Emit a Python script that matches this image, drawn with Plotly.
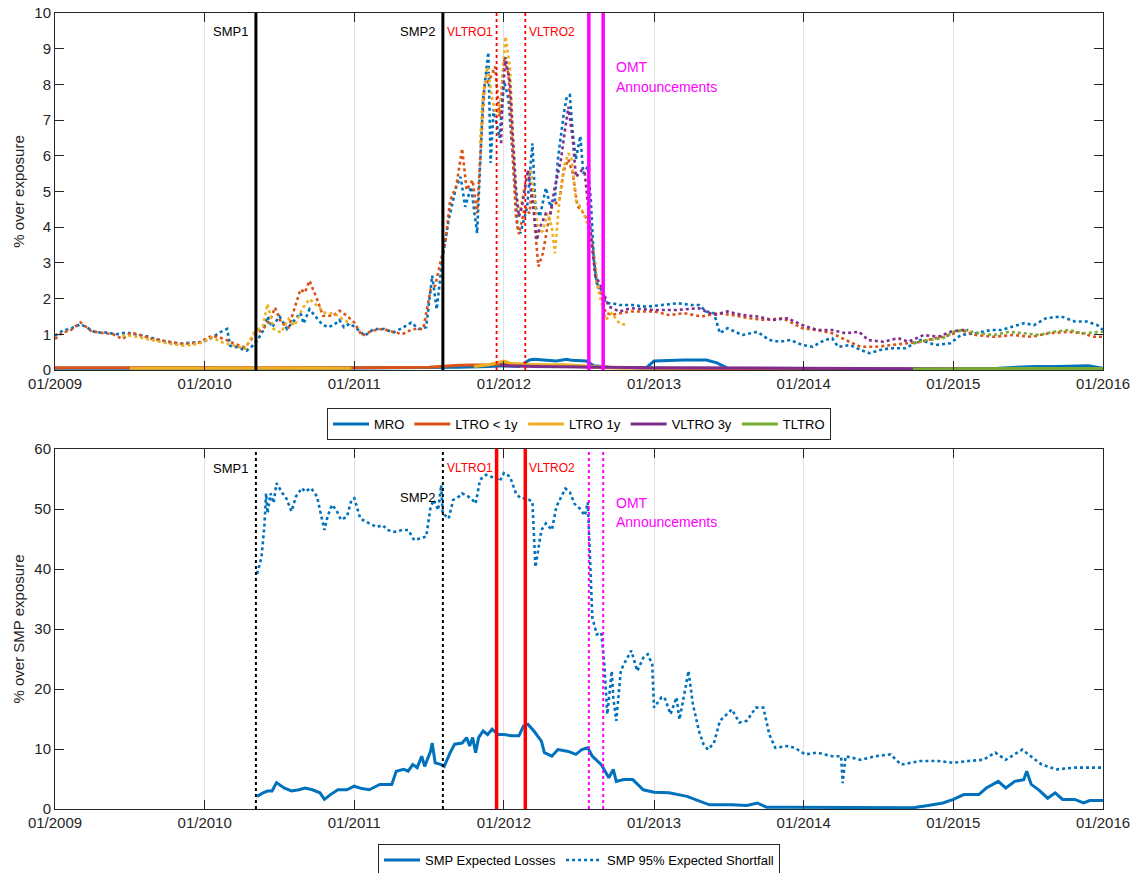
import pandas as pd
import plotly.graph_objects as go

# ---------------- data (decimal-year time stamps, values in %) ----------------
# Top panel: expected shortfall (dotted) per facility, % over exposure
t_mro_es = [2009.00, 2009.05, 2009.10, 2009.17, 2009.21, 2009.27, 2009.34, 2009.41, 2009.48, 2009.53,
            2009.60, 2009.67, 2009.77, 2009.84, 2009.91, 2009.98, 2010.05, 2010.10, 2010.15, 2010.17,
            2010.22, 2010.28, 2010.32, 2010.35, 2010.39, 2010.42, 2010.45, 2010.50, 2010.55, 2010.60,
            2010.64, 2010.66, 2010.70, 2010.74, 2010.78, 2010.82, 2010.86, 2010.90, 2010.93, 2010.97,
            2011.02, 2011.07, 2011.13, 2011.20, 2011.26, 2011.33, 2011.38, 2011.43, 2011.48, 2011.52,
            2011.55, 2011.59, 2011.63, 2011.68, 2011.71, 2011.74, 2011.78, 2011.82, 2011.84, 2011.86,
            2011.895, 2011.91, 2011.93, 2011.97, 2012.00, 2012.03, 2012.06, 2012.09, 2012.11, 2012.155,
            2012.19, 2012.21, 2012.24, 2012.28, 2012.31, 2012.34, 2012.36, 2012.40, 2012.42, 2012.44,
            2012.46, 2012.48, 2012.51, 2012.53, 2012.56, 2012.58, 2012.60, 2012.62, 2012.65, 2012.68,
            2012.72, 2012.77, 2012.86, 2012.95, 2013.05, 2013.16, 2013.25, 2013.30, 2013.35, 2013.40,
            2013.44, 2013.49, 2013.59, 2013.69, 2013.77, 2013.84, 2013.91, 2013.99, 2014.06, 2014.14,
            2014.19, 2014.23, 2014.31, 2014.38, 2014.44, 2014.51, 2014.58, 2014.68, 2014.78, 2014.88,
            2014.98, 2015.05, 2015.15, 2015.25, 2015.32, 2015.40, 2015.47, 2015.54, 2015.62, 2015.72,
            2015.81, 2015.89, 2015.96, 2016.00]
v_mro_es = [0.96, 1.10, 1.15, 1.28, 1.20, 1.05, 1.05, 1.00, 1.05, 1.00,
            0.96, 0.87, 0.77, 0.73, 0.77, 0.77, 0.91, 1.05, 1.15, 0.68,
            0.63, 0.54, 0.68, 0.82, 1.10, 1.50, 1.20, 1.50, 1.15, 1.40,
            1.60, 1.30, 1.70, 1.50, 1.30, 1.20, 1.25, 1.40, 1.20, 1.30,
            1.15, 0.96, 1.15, 1.15, 1.05, 1.20, 1.33, 1.15, 1.20, 2.64,
            1.70, 3.17, 4.20, 5.13, 5.41, 4.57, 5.13, 3.83, 5.90, 7.60,
            8.90, 5.80, 7.30, 6.50, 8.10, 7.60, 5.90, 4.00, 3.83, 4.57,
            6.35, 4.57, 4.30, 5.10, 4.57, 4.76, 5.90, 7.20, 7.66, 7.70,
            6.60, 5.90, 6.55, 5.50, 5.70, 4.76, 3.10, 2.43, 2.24, 1.87,
            1.87, 1.82, 1.82, 1.77, 1.82, 1.87, 1.82, 1.82, 1.64, 1.59,
            1.03, 1.17, 0.98, 1.07, 0.84, 0.79, 0.84, 0.70, 0.65, 0.84,
            0.89, 0.65, 0.70, 0.56, 0.47, 0.56, 0.61, 0.61, 0.84, 0.70,
            0.75, 0.98, 1.03, 1.12, 1.12, 1.21, 1.31, 1.26, 1.45, 1.50,
            1.36, 1.36, 1.26, 1.12]

t_ltro_es = [2009.00, 2009.05, 2009.10, 2009.17, 2009.24, 2009.29, 2009.39, 2009.45, 2009.51, 2009.58,
             2009.65, 2009.72, 2009.79, 2009.86, 2009.96, 2010.05, 2010.13, 2010.20, 2010.27, 2010.33,
             2010.39, 2010.44, 2010.47, 2010.51, 2010.56, 2010.60, 2010.64, 2010.67, 2010.70, 2010.75,
             2010.79, 2010.86, 2010.90, 2010.95, 2011.00, 2011.05, 2011.12, 2011.19, 2011.27, 2011.32,
             2011.39, 2011.46, 2011.51, 2011.54, 2011.59, 2011.61, 2011.64, 2011.68, 2011.72, 2011.75,
             2011.79, 2011.82, 2011.85, 2011.87, 2011.91, 2011.94, 2011.97, 2012.00, 2012.03, 2012.06,
             2012.08, 2012.10, 2012.14, 2012.17, 2012.19, 2012.21, 2012.23, 2012.26, 2012.29, 2012.32,
             2012.37, 2012.40, 2012.43, 2012.46, 2012.49, 2012.53, 2012.57, 2012.60, 2012.62, 2012.65,
             2012.68, 2012.72, 2012.85, 2013.00, 2013.10, 2013.20, 2013.32, 2013.42, 2013.52, 2013.64,
             2013.74, 2013.86, 2013.99, 2014.09, 2014.19, 2014.28, 2014.38, 2014.48, 2014.58, 2014.68,
             2014.78, 2014.88, 2014.98, 2015.05, 2015.15, 2015.27, 2015.40, 2015.52, 2015.64, 2015.77,
             2015.86, 2015.94, 2016.00]
v_ltro_es = [0.87, 1.05, 1.10, 1.33, 1.10, 1.05, 1.00, 0.87, 1.05, 0.96,
             0.87, 0.82, 0.77, 0.73, 0.77, 0.96, 0.87, 0.73, 0.63, 0.96,
             1.15, 1.43, 1.75, 1.33, 1.19, 1.70, 2.26, 2.17, 2.50, 1.99,
             1.52, 1.52, 1.66, 1.52, 1.33, 0.96, 1.10, 1.15, 1.05, 1.00,
             1.15, 1.15, 2.26, 2.36, 3.29, 3.64, 4.76, 5.13, 6.20, 5.04,
             5.32, 4.39, 6.63, 7.94, 8.20, 8.50, 7.10, 8.70, 8.30, 5.90,
             4.30, 3.80, 4.57, 4.39, 5.13, 3.83, 2.90, 3.27, 4.00, 4.57,
             4.76, 5.60, 5.90, 5.50, 4.60, 4.40, 4.10, 3.10, 2.40, 2.10,
             1.59, 1.55, 1.64, 1.64, 1.54, 1.59, 1.50, 1.59, 1.54, 1.45,
             1.40, 1.45, 1.17, 1.12, 1.03, 0.84, 0.65, 0.65, 0.70, 0.75,
             0.79, 0.89, 0.98, 1.12, 0.98, 0.93, 0.98, 0.93, 1.03, 1.07,
             1.03, 0.93, 0.93]

t_ltro1y_es = [2009.45, 2009.50, 2009.57, 2009.67, 2009.77, 2009.86, 2009.96, 2010.05, 2010.12, 2010.20,
               2010.27, 2010.33, 2010.39, 2010.42, 2010.46, 2010.51, 2010.56, 2010.60, 2010.65, 2010.70,
               2010.75, 2010.80, 2010.87, 2010.92, 2010.98, None,
               2011.84, 2011.86, 2011.89, 2011.92, 2011.95, 2011.98, 2012.01, 2012.04, 2012.06, 2012.08,
               2012.10, 2012.12, 2012.15, 2012.18, 2012.20, 2012.23, 2012.26, 2012.29, 2012.32, 2012.34,
               2012.37, 2012.40, 2012.43, 2012.45, 2012.48, 2012.51, 2012.54, 2012.58, 2012.61, 2012.63,
               2012.68, 2012.72, 2012.77, 2012.82]
v_ltro1y_es = [0.96, 0.96, 0.91, 0.82, 0.73, 0.68, 0.73, 0.91, 0.77, 0.68,
               0.59, 1.05, 1.24, 1.85, 1.15, 1.05, 1.43, 1.24, 1.70, 1.99,
               1.80, 1.61, 1.57, 1.43, 1.29, None,
               6.35, 7.75, 8.50, 7.60, 7.10, 7.60, 9.34, 8.50, 6.63, 5.13,
               4.30, 4.76, 5.41, 5.60, 4.94, 3.83, 3.90, 4.39, 4.00, 3.27,
               4.76, 5.70, 6.07, 5.97, 4.76, 4.57, 4.30, 3.83, 3.00, 2.24,
               1.40, 1.59, 1.31, 1.26]

t_vltro_es = [2011.98, 2011.99, 2012.01, 2012.04, 2012.06, 2012.08, 2012.10, 2012.12, 2012.16, 2012.19,
              2012.22, 2012.24, 2012.28, 2012.31, 2012.34, 2012.38, 2012.41, 2012.43, 2012.46, 2012.48,
              2012.52, 2012.54, 2012.58, 2012.61, 2012.64, 2012.70, 2012.77, 2012.85, 2013.00, 2013.15,
              2013.30, 2013.40, 2013.49, 2013.59, 2013.69, 2013.79, 2013.89, 2013.99, 2014.09, 2014.19,
              2014.28, 2014.37, 2014.43, 2014.53, 2014.63, 2014.70, 2014.80, 2014.90, 2014.98, 2015.05,
              2015.10]
v_vltro_es = [6.35, 7.60, 8.76, 8.05, 6.45, 5.04, 4.30, 4.57, 5.60, 4.76,
              3.64, 4.00, 4.39, 4.39, 5.13, 5.88, 6.80, 7.37, 6.45, 5.41,
              5.60, 5.50, 3.83, 2.61, 2.43, 1.78, 1.64, 1.73, 1.68, 1.68,
              1.73, 1.54, 1.64, 1.54, 1.50, 1.40, 1.45, 1.26, 1.12, 1.12,
              1.03, 1.07, 0.84, 0.79, 0.89, 0.79, 0.98, 0.93, 1.07, 1.12,
              1.12]

t_tltro_es = [2014.73, 2014.83, 2014.93, 2015.00, 2015.07, 2015.17, 2015.27, 2015.37, 2015.47, 2015.57,
              2015.67, 2015.77, 2015.86, 2015.96, 2016.00]
v_tltro_es = [0.75, 0.84, 0.89, 1.07, 1.12, 1.03, 0.98, 1.07, 1.03, 0.98,
              1.07, 1.12, 1.03, 1.07, 1.07]

# Top panel: expected losses (solid) per facility
t_mro_el = [2009.00, 2009.50, 2010.00, 2010.50, 2011.00, 2011.50, 2011.70, 2011.90, 2012.00, 2012.10,
            2012.17, 2012.20, 2012.30, 2012.35, 2012.42, 2012.45, 2012.55, 2012.60, 2012.70, 2012.95,
            2013.00, 2013.20, 2013.35, 2013.42, 2013.50, 2014.00, 2014.50, 2015.00, 2015.30, 2015.55,
            2015.70, 2015.90, 2016.00]
v_mro_el = [0.05, 0.06, 0.05, 0.04, 0.05, 0.06, 0.08, 0.10, 0.12, 0.10,
            0.28, 0.30, 0.26, 0.25, 0.30, 0.27, 0.25, 0.12, 0.08, 0.06,
            0.25, 0.28, 0.28, 0.20, 0.03, 0.03, 0.02, 0.03, 0.05, 0.10,
            0.10, 0.12, 0.05]

t_ltro_el = [2009.00, 2010.00, 2011.00, 2011.50, 2011.70, 2011.90, 2012.00, 2012.20, 2012.50, 2012.70,
             2013.00, 2014.00, 2015.00, 2016.00]
v_ltro_el = [0.06, 0.05, 0.06, 0.08, 0.13, 0.15, 0.18, 0.14, 0.10, 0.06,
             0.05, 0.03, 0.02, 0.02]

t_ltro1y_el = [2009.50, 2010.00, 2010.50, 2010.98, None,
               2011.80, 2011.90, 2012.00, 2012.05, 2012.20, 2012.40, 2012.60, 2012.82]
v_ltro1y_el = [0.05, 0.05, 0.05, 0.05, None,
               0.10, 0.15, 0.25, 0.18, 0.15, 0.15, 0.10, 0.05]

t_vltro_el = [2011.97, 2012.00, 2012.20, 2012.50, 2013.00, 2014.00, 2014.70, 2015.10]
v_vltro_el = [0.15, 0.12, 0.10, 0.08, 0.06, 0.05, 0.04, 0.03]

t_tltro_el = [2014.73, 2015.00, 2015.50, 2016.00]
v_tltro_el = [0.03, 0.04, 0.04, 0.04]

# Bottom panel: SMP portfolio, % over SMP exposure
t_smp_es = [2010.35, 2010.38, 2010.40, 2010.41, 2010.42, 2010.44, 2010.46, 2010.48, 2010.52, 2010.54,
            2010.58, 2010.61, 2010.65, 2010.67, 2010.71, 2010.75, 2010.77, 2010.80, 2010.82, 2010.85,
            2010.88, 2010.91, 2010.95, 2010.98, 2011.00, 2011.04, 2011.10, 2011.15, 2011.19, 2011.22,
            2011.27, 2011.32, 2011.36, 2011.40, 2011.44, 2011.48, 2011.51, 2011.53, 2011.56, 2011.58,
            2011.59, 2011.63, 2011.66, 2011.70, 2011.72, 2011.76, 2011.79, 2011.81, 2011.84, 2011.88,
            2011.91, 2011.95, 2011.97, 2012.00, 2012.04, 2012.08, 2012.11, 2012.15, 2012.19, 2012.21,
            2012.25, 2012.28, 2012.32, 2012.35, 2012.41, 2012.44, 2012.47, 2012.51, 2012.54, 2012.56,
            2012.57, 2012.58, 2012.59, 2012.62, 2012.65, 2012.67, 2012.69, 2012.72, 2012.73, 2012.75,
            2012.78, 2012.80, 2012.85, 2012.89, 2012.93, 2012.96, 2012.99, 2013.00, 2013.05, 2013.07,
            2013.11, 2013.15, 2013.17, 2013.21, 2013.23, 2013.26, 2013.30, 2013.33, 2013.36, 2013.40,
            2013.44, 2013.52, 2013.57, 2013.62, 2013.68, 2013.73, 2013.77, 2013.81, 2013.89, 2013.94,
            2014.01, 2014.09, 2014.19, 2014.25, 2014.26, 2014.28, 2014.38, 2014.48, 2014.58, 2014.65,
            2014.78, 2014.90, 2015.00, 2015.10, 2015.20, 2015.28, 2015.35, 2015.46, 2015.52, 2015.59,
            2015.69, 2015.81, 2016.00]
v_smp_es = [39.2, 42.0, 47.6, 52.6, 49.3, 52.6, 51.0, 54.3, 52.6, 52.1,
            49.6, 52.1, 53.5, 52.9, 53.5, 52.1, 49.8, 46.5, 48.7, 50.7,
            49.8, 48.2, 48.7, 51.5, 51.8, 48.4, 47.6, 47.0, 47.3, 46.5,
            46.2, 46.5, 46.5, 44.8, 45.1, 45.4, 50.4, 51.5, 49.8, 54.0,
            49.3, 48.4, 51.5, 52.1, 52.6, 52.1, 51.5, 50.9, 54.9, 55.7,
            55.4, 55.1, 54.6, 56.0, 55.4, 52.6, 51.8, 51.8, 51.2, 40.3,
            46.5, 47.6, 46.5, 50.4, 53.4, 52.8, 50.9, 50.0, 48.9, 51.1,
            44.7, 37.5, 31.9, 29.1, 29.4, 24.1, 15.8, 23.0, 18.6, 14.7,
            23.0, 24.1, 26.4, 23.0, 25.2, 25.8, 24.1, 16.9, 18.6, 18.6,
            15.8, 18.6, 14.9, 20.2, 23.0, 17.4, 13.0, 10.8, 9.9, 11.0,
            14.7, 16.6, 14.4, 14.7, 16.9, 16.9, 12.4, 10.2, 10.5, 10.2,
            9.1, 9.4, 8.8, 8.8, 4.3, 8.8, 8.2, 8.8, 9.1, 7.4,
            8.0, 8.0, 7.7, 8.0, 8.2, 9.4, 8.2, 9.9, 8.8, 7.4,
            6.6, 6.9, 6.9]

t_smp_el = [2010.35, 2010.39, 2010.42, 2010.45, 2010.48, 2010.53, 2010.58, 2010.63, 2010.67, 2010.72,
            2010.77, 2010.80, 2010.84, 2010.89, 2010.95, 2011.00, 2011.05, 2011.10, 2011.17, 2011.25,
            2011.28, 2011.33, 2011.36, 2011.39, 2011.42, 2011.45, 2011.47, 2011.51, 2011.52, 2011.54,
            2011.58, 2011.60, 2011.64, 2011.67, 2011.72, 2011.75, 2011.77, 2011.79, 2011.81, 2011.83,
            2011.86, 2011.89, 2011.92, 2011.96, 2012.00, 2012.05, 2012.10, 2012.13, 2012.16, 2012.20,
            2012.25, 2012.27, 2012.32, 2012.36, 2012.43, 2012.48, 2012.52, 2012.56, 2012.59, 2012.65,
            2012.70, 2012.73, 2012.75, 2012.80, 2012.86, 2012.93, 2013.00, 2013.10, 2013.22, 2013.37,
            2013.52, 2013.62, 2013.69, 2013.75, 2013.89, 2014.04, 2014.28, 2014.58, 2014.73, 2014.83,
            2014.93, 2015.00, 2015.07, 2015.17, 2015.22, 2015.30, 2015.35, 2015.41, 2015.47, 2015.49,
            2015.52, 2015.57, 2015.63, 2015.68, 2015.73, 2015.81, 2015.87, 2015.91, 2016.00]
v_smp_el = [2.1, 2.7, 3.0, 3.0, 4.4, 3.5, 3.0, 3.2, 3.5, 3.2,
            2.7, 1.6, 2.4, 3.2, 3.2, 3.8, 3.4, 3.2, 4.1, 4.1,
            6.3, 6.6, 6.3, 7.4, 6.9, 8.8, 7.1, 9.7, 11.0, 7.7,
            7.4, 7.1, 9.4, 10.8, 11.0, 11.9, 10.5, 11.9, 9.4, 11.9,
            13.0, 12.4, 13.3, 12.4, 12.4, 12.2, 12.2, 13.8, 14.1, 13.0,
            11.3, 9.4, 8.8, 9.9, 9.6, 9.1, 9.9, 10.2, 8.8, 7.4,
            5.2, 6.6, 4.6, 4.9, 4.9, 3.2, 2.8, 2.7, 2.1, 0.7,
            0.7, 0.6, 1.0, 0.3, 0.3, 0.3, 0.2, 0.2, 0.2, 0.6,
            1.0, 1.6, 2.4, 2.4, 3.5, 4.6, 3.5, 4.6, 4.9, 6.3,
            4.1, 3.2, 1.8, 2.7, 1.6, 1.6, 1.0, 1.4, 1.4]

# Policy events
smp_dates = ["2010-05-06", "2011-08-05"]
smp_labels = ["SMP1", "SMP2"]
vltro_dates = ["2011-12-14", "2012-02-22"]
vltro_labels = ["VLTRO1", "VLTRO2"]
omt_dates = ["2012-07-26", "2012-08-30"]

tick_years = list(range(2009, 2017))

# ---------------- styling ----------------
C_BLUE, C_ORANGE, C_YELLOW = "#0072BD", "#D95319", "#EDB120"
C_PURPLE, C_GREEN = "#7E2F8E", "#77AC30"
AX = "#262626"
FONT = "Liberation Sans, Arial, Helvetica, sans-serif"


def to_dates(years):
    out = []
    for y in years:
        if y is None:
            out.append(None)
            continue
        base = int(y)
        out.append(pd.Timestamp(base, 1, 1) + pd.Timedelta(days=(y - base) * 365.25))
    return out


fig = go.Figure()

facilities = [
    ("MRO", C_BLUE, t_mro_el, v_mro_el, t_mro_es, v_mro_es),
    ("LTRO < 1y", C_ORANGE, t_ltro_el, v_ltro_el, t_ltro_es, v_ltro_es),
    ("LTRO 1y", C_YELLOW, t_ltro1y_el, v_ltro1y_el, t_ltro1y_es, v_ltro1y_es),
    ("VLTRO 3y", C_PURPLE, t_vltro_el, v_vltro_el, t_vltro_es, v_vltro_es),
    ("TLTRO", C_GREEN, t_tltro_el, v_tltro_el, t_tltro_es, v_tltro_es),
]

for name, col, t_el, v_el, t_es, v_es in facilities:
    fig.add_trace(go.Scatter(x=to_dates(t_el), y=v_el, mode="lines", name=name,
                             line=dict(color=col, width=3), xaxis="x", yaxis="y",
                             legend="legend", connectgaps=False))
for name, col, t_el, v_el, t_es, v_es in facilities:
    fig.add_trace(go.Scatter(x=to_dates(t_es), y=v_es, mode="lines", name=name + " ES",
                             line=dict(color=col, width=2.6, dash="dot"), xaxis="x", yaxis="y",
                             showlegend=False, connectgaps=False))

fig.add_trace(go.Scatter(x=to_dates(t_smp_el), y=v_smp_el, mode="lines", name="SMP Expected Losses",
                         line=dict(color=C_BLUE, width=3), xaxis="x2", yaxis="y2", legend="legend2"))
fig.add_trace(go.Scatter(x=to_dates(t_smp_es), y=v_smp_es, mode="lines",
                         name="SMP 95% Expected Shortfall",
                         line=dict(color=C_BLUE, width=2.6, dash="dot"), xaxis="x2", yaxis="y2",
                         legend="legend2"))

# ---------------- event markers ----------------
shapes = []
annotations = []


def vline(xref, yref, date, color, width, dash):
    shapes.append(dict(type="line", xref=xref, yref=yref + " domain", x0=date, x1=date, y0=0, y1=1,
                       line=dict(color=color, width=width, dash=dash), layer="above"))


for d in smp_dates:
    vline("x", "y", d, "black", 3, "solid")
    vline("x2", "y2", d, "black", 2, "dot")
for d in vltro_dates:
    vline("x", "y", d, "#FF0000", 1.8, "dot")
    vline("x2", "y2", d, "#FF0000", 3.5, "solid")
for d in omt_dates:
    vline("x", "y", d, "#FF00FF", 3.5, "solid")
    vline("x2", "y2", d, "#FF00FF", 2, "dot")


def label(xref, yref, x, y, text, color, size, anchor, shift):
    annotations.append(dict(xref=xref, yref=yref, x=x, y=y, text=text, showarrow=False,
                            xanchor=anchor, yanchor="middle", xshift=shift,
                            font=dict(family=FONT, size=size, color=color)))


# top panel labels
label("x", "y", smp_dates[0], 9.47, smp_labels[0], "black", 13, "right", -6)
label("x", "y", smp_dates[1], 9.47, smp_labels[1], "black", 13, "right", -6)
label("x", "y", vltro_dates[0], 9.47, vltro_labels[0], "#FF0000", 12, "right", -2)
label("x", "y", vltro_dates[1], 9.47, vltro_labels[1], "#FF0000", 12, "left", 2)
label("x", "y", omt_dates[1], 8.5, "OMT", "#FF00FF", 14, "left", 11)
label("x", "y", omt_dates[1], 7.94, "Announcements", "#FF00FF", 14, "left", 11)
# bottom panel labels
label("x2", "y2", smp_dates[0], 56.8, smp_labels[0], "black", 13, "right", -6)
label("x2", "y2", smp_dates[1], 51.9, smp_labels[1], "black", 13, "right", -6)
label("x2", "y2", vltro_dates[0], 56.9, vltro_labels[0], "#FF0000", 12, "right", -2)
label("x2", "y2", vltro_dates[1], 56.9, vltro_labels[1], "#FF0000", 12, "left", 2)
label("x2", "y2", omt_dates[1], 51.05, "OMT", "#FF00FF", 14, "left", 11)
label("x2", "y2", omt_dates[1], 47.8, "Announcements", "#FF00FF", 14, "left", 11)

# ---------------- axes ----------------
W, H = 1137, 873
ML, MR, MT, MB = 55, 34, 13, 64
plot_h = H - MT - MB


def frac(py):
    return (H - MB - py) / plot_h


xcommon = dict(type="date", range=["2009-01-01", "2016-01-01"],
               tickvals=[f"{y}-01-01" for y in tick_years],
               ticktext=[f"01/{y}" for y in tick_years],
               showgrid=True, gridcolor="#e1e1e1", gridwidth=1,
               ticks="inside", ticklen=9, tickcolor=AX, mirror="allticks",
               showline=True, linecolor=AX, linewidth=1, zeroline=False,
               tickfont=dict(family=FONT, size=15, color=AX))
ycommon = dict(ticks="inside", ticklen=9, tickcolor=AX, mirror="allticks", showline=True,
               linecolor=AX, linewidth=1, showgrid=False, zeroline=False,
               tickfont=dict(family=FONT, size=15, color=AX))

fig.update_layout(
    width=W, height=H,
    margin=dict(l=ML, r=MR, t=MT, b=MB, autoexpand=False),
    paper_bgcolor="white", plot_bgcolor="white",
    font=dict(family=FONT, color=AX),
    xaxis=dict(xcommon, anchor="y", domain=[0, 1]),
    yaxis=dict(ycommon, range=[0, 10], dtick=1, domain=[frac(370), 1.0],
               title=dict(text="% over exposure", font=dict(size=15, color=AX), standoff=6)),
    xaxis2=dict(xcommon, anchor="y2", domain=[0, 1]),
    yaxis2=dict(ycommon, range=[0, 60], dtick=10, domain=[0.0, frac(449)],
                title=dict(text="% over SMP exposure", font=dict(size=15, color=AX), standoff=6)),
    legend=dict(orientation="h", x=0.5, xanchor="center", y=frac(424), yanchor="middle",
                bordercolor=AX, borderwidth=1, bgcolor="white", itemwidth=36,
                font=dict(family=FONT, size=13, color="black"), tracegroupgap=0),
    legend2=dict(orientation="h", x=0.5, xanchor="center", y=frac(860), yanchor="middle",
                 bordercolor=AX, borderwidth=1, bgcolor="white", itemwidth=36,
                 font=dict(family=FONT, size=13, color="black"), tracegroupgap=0),
    shapes=shapes,
    annotations=annotations,
    showlegend=True,
)

fig.write_html("out.html", config={"displayModeBar": False})
